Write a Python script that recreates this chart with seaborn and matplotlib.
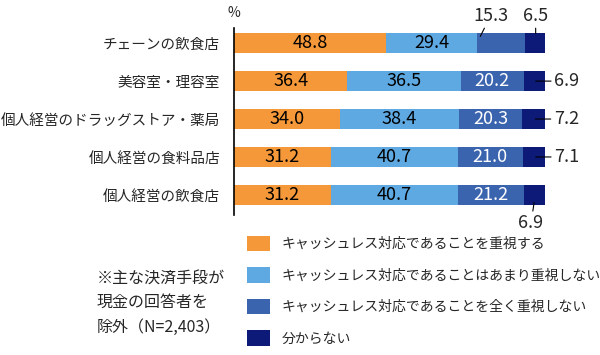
import numpy as np
import pandas as pd
import seaborn as sns
import matplotlib.pyplot as plt
from matplotlib.patches import Patch

# data
categories = ["チェーンの飲食店", "美容室・理容室", "個人経営のドラッグストア・薬局",
              "個人経営の食料品店", "個人経営の飲食店"]
emphasize = [48.8, 36.4, 34.0, 31.2, 31.2]
not_much = [29.4, 36.5, 38.4, 40.7, 40.7]
not_at_all = [15.3, 20.2, 20.3, 21.0, 21.2]
unknown = [6.5, 6.9, 7.2, 7.1, 6.9]

series_names = ["キャッシュレス対応であることを重視する",
                "キャッシュレス対応であることはあまり重視しない",
                "キャッシュレス対応であることを全く重視しない",
                "分からない"]
colors = ["#F4983A", "#5EA9E1", "#3B64AF", "#0D1A78"]
note_lines = ["※主な決済手段が", "現金の回答者を", "除外（N=2,403）"]

sns.set_theme(style="white")
plt.rcParams["font.family"] = ["Noto Sans CJK JP", "DejaVu Sans"]

df = pd.DataFrame({"cat": categories, "s1": emphasize, "s2": not_much,
                   "s3": not_at_all, "s4": unknown})
df["c1"] = df["s1"]
df["c2"] = df["c1"] + df["s2"]
df["c3"] = df["c2"] + df["s3"]
df["c4"] = df["c3"] + df["s4"]

fig = plt.figure(figsize=(6, 3.55), dpi=100)
ax = fig.add_axes([234 / 600, 1 - 215 / 355, (545 - 234) / 600, 187 / 355])

# stacked bars drawn as layered cumulative totals
for col, c in zip(["c4", "c3", "c2", "c1"], colors[::-1]):
    sns.barplot(data=df, x=col, y="cat", color=c, orient="h", width=0.53,
                saturation=1, linewidth=0, ax=ax)

ax.set_xlim(0, df["c4"].max())
ax.set_ylim(4.53, -0.4)
ax.set_xlabel("")
ax.set_ylabel("")
ax.set_xticks([])
ax.tick_params(axis="y", length=0, pad=10, labelsize=10.5)
for s in ["top", "right", "bottom"]:
    ax.spines[s].set_visible(False)
ax.spines["left"].set_color("black")
ax.spines["left"].set_linewidth(1.2)

# value labels inside the bars
for i in range(len(categories)):
    segs = [(df["c1"][i], df["s1"][i], "black"),
            (df["c2"][i], df["s2"][i], "black"),
            (df["c3"][i], df["s3"][i], "white")]
    for j, (end, val, tc) in enumerate(segs):
        if i == 0 and j == 2:
            continue
        ax.text(end - val / 2, i, f"{val:.1f}", ha="center", va="center",
                fontsize=13, color=tc)

# labels outside the bars with short leader lines
ax.annotate(f"{not_at_all[0]:.1f}", xy=(df["c3"][0] - 14.3, -0.18),
            xytext=(df["c3"][0] - 11, -0.72), ha="center", va="center",
            fontsize=13, annotation_clip=False,
            arrowprops=dict(arrowstyle="-", color="black", lw=0.8,
                            shrinkA=7, shrinkB=0))
ax.annotate(f"{unknown[0]:.1f}", xy=(df["c3"][0] + 3.5, -0.25),
            xytext=(df["c3"][0] + 3.5, -0.72), ha="center", va="center",
            fontsize=13, annotation_clip=False,
            arrowprops=dict(arrowstyle="-", color="black", lw=0.8,
                            shrinkA=7, shrinkB=0))
for i in [1, 2, 3]:
    ax.annotate(f"{unknown[i]:.1f}", xy=(df["c4"][i] - 3, i),
                xytext=(df["c4"][i] + 3, i), ha="left", va="center",
                fontsize=13, annotation_clip=False,
                arrowprops=dict(arrowstyle="-", color="black", lw=0.8,
                                shrinkA=0, shrinkB=0))
ax.annotate(f"{unknown[4]:.1f}", xy=(df["c4"][4] - 3.5, 4.2),
            xytext=(df["c4"][4] - 4.5, 4.75), ha="center", va="center",
            fontsize=13, annotation_clip=False,
            arrowprops=dict(arrowstyle="-", color="black", lw=0.8,
                            shrinkA=7, shrinkB=0))

fig.text(234 / 600, 1 - 13 / 355, "%", ha="center", va="center", fontsize=10)

handles = [Patch(facecolor=c, edgecolor="none") for c in colors]
fig.legend(handles, series_names, loc="upper left",
           bbox_to_anchor=(247 / 600, 1 - 236 / 355), frameon=False,
           fontsize=10, handlelength=1.65, handleheight=1.3,
           handletextpad=0.85, labelspacing=1.17, borderpad=0,
           borderaxespad=0)

for k, line in enumerate(note_lines):
    fig.text(97 / 600, 1 - (278 + 24.5 * k) / 355, line, ha="left",
             va="center", fontsize=11.5)

fig.savefig("out.png", dpi=100)
